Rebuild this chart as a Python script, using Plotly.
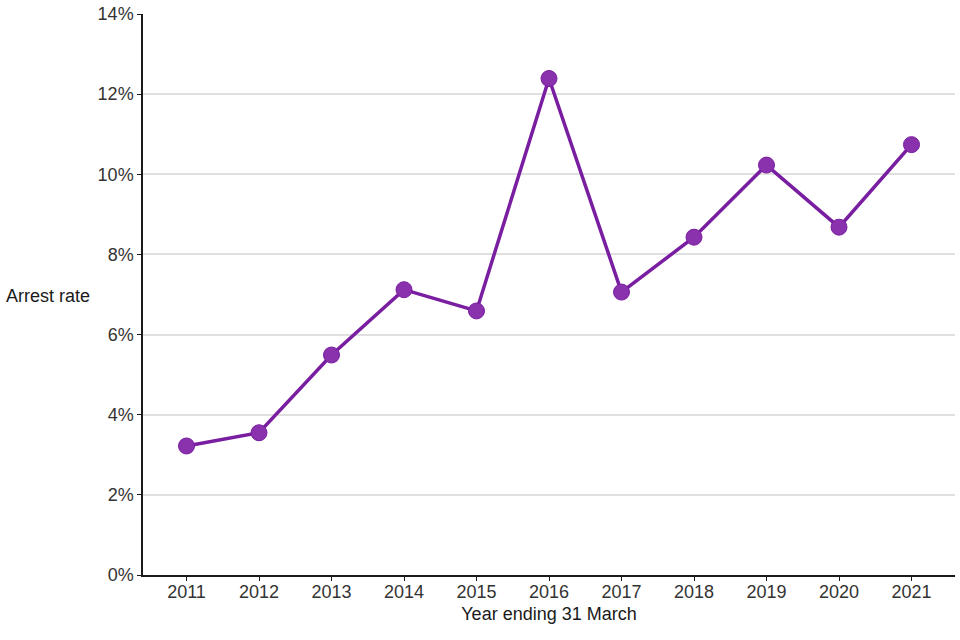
import plotly.graph_objects as go

years = ["2011", "2012", "2013", "2014", "2015", "2016", "2017", "2018", "2019", "2020", "2021"]
arrest_rate = [3.22, 3.55, 5.49, 7.12, 6.59, 12.39, 7.06, 8.43, 10.23, 8.68, 10.74]
y_ticks = [0, 2, 4, 6, 8, 10, 12, 14]
y_tick_labels = ["0%", "2%", "4%", "6%", "8%", "10%", "12%", "14%"]

fig = go.Figure()
fig.add_trace(go.Scatter(
    x=years, y=arrest_rate, mode="lines+markers",
    line=dict(color="#7A1EA1", width=3.5),
    marker=dict(size=16, color="#8A32AE", line=dict(color="#7A1EA1", width=1)),
    hoverinfo="x+y",
))

fig.update_layout(
    width=960, height=640,
    margin=dict(l=143, r=5, t=14, b=65, autoexpand=False),
    paper_bgcolor="white", plot_bgcolor="white",
    font=dict(family="Liberation Sans, Arial, sans-serif", size=18, color="#333333"),
    showlegend=False,
    xaxis=dict(
        type="category", range=[-0.6, 10.6], automargin=False,
        showline=True, linecolor="#1a1a1a", linewidth=1.5,
        ticks="outside", ticklen=4, tickcolor="#1a1a1a",
        ticklabelstandoff=-4,
        showgrid=False, zeroline=False,
        title=dict(text="Year ending 31 March", standoff=6, font=dict(size=18, color="#1a1a1a")),
        tickfont=dict(size=18, color="#333333"),
    ),
    yaxis=dict(
        range=[0, 14], tickvals=y_ticks, ticktext=y_tick_labels, automargin=False,
        showline=True, linecolor="#1a1a1a", linewidth=1.5,
        ticks="outside", ticklen=4, tickcolor="#1a1a1a",
        showgrid=True, gridcolor="#e0e0e0", gridwidth=1.5,
        zeroline=False,
        tickfont=dict(size=18, color="#333333"),
    ),
    annotations=[dict(
        text="Arrest rate", xref="paper", yref="paper",
        x=-139/812, y=(575-296)/561, xanchor="left", yanchor="middle",
        showarrow=False, font=dict(size=18, color="#1a1a1a"),
    )],
)

fig.write_html("out.html", config={"displayModeBar": False},
               post_script="document.body.style.margin='0';")
